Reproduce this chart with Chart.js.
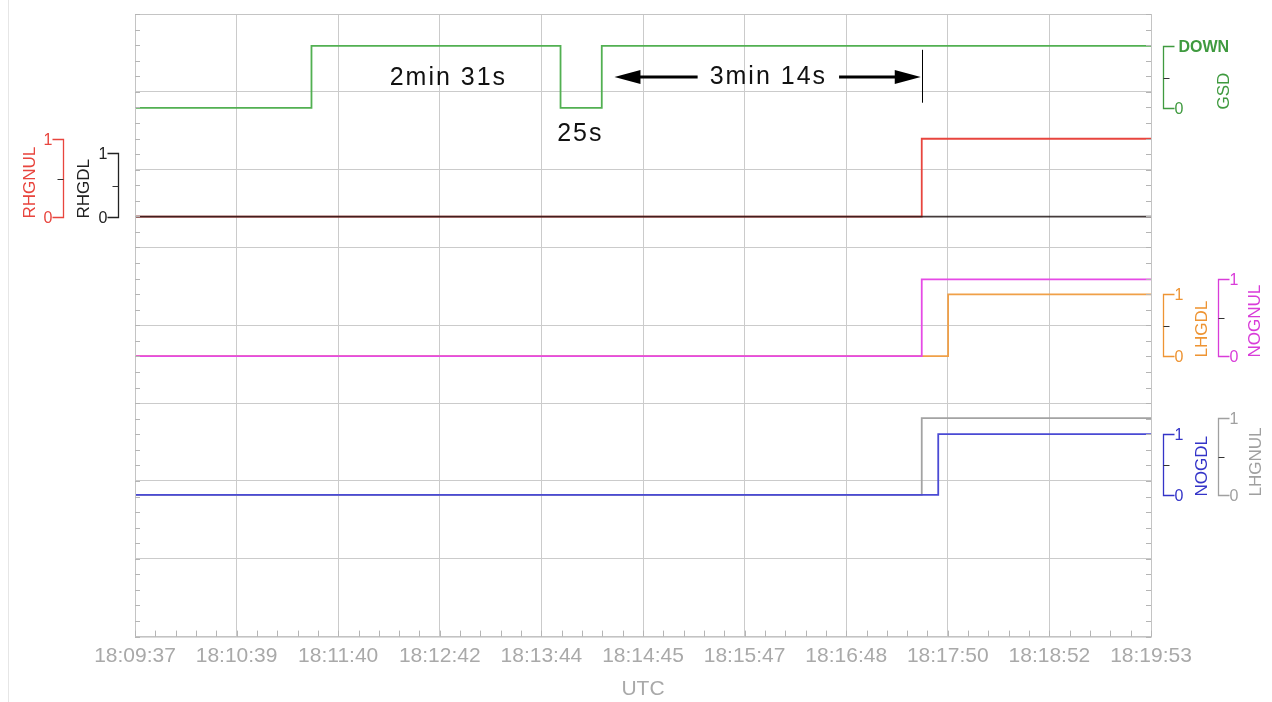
<!DOCTYPE html>
<html>
<head>
  <title>Gear signals</title>
  <style>
    body { margin: 0; background: #fff; }
  </style>
</head>
<body>
  <canvas id="canvas" width="1272" height="702"></canvas>
  <script src="https://cdn.jsdelivr.net/npm/chart.js"></script>
  <script>
    // tick labels along the time axis (one every 61.6 s)
    var timeTicks = ['18:09:37', '18:10:39', '18:11:40', '18:12:42', '18:13:44', '18:14:45',
                     '18:15:47', '18:16:48', '18:17:50', '18:18:52', '18:19:53'];
    var spanSec = 616;   // 18:09:37 -> 18:19:53

    // discrete signals: seconds after 18:09:37 and the value from that point on
    var gsdT    = [0, 107, 258, 283, 616];  var gsdV    = [0, 1, 0, 1, 1];
    var rhgnulT = [0, 477, 616];            var rhgnulV = [0, 1, 1];
    var rhgdlT  = [0, 616];                 var rhgdlV  = [0, 0];
    var nognulT = [0, 477, 616];            var nognulV = [0, 1, 1];
    var lhgdlT  = [0, 493, 616];            var lhgdlV  = [0, 1, 1];
    var lhgnulT = [0, 477, 616];            var lhgnulV = [0, 1, 1];
    var nogdlT  = [0, 487, 616];            var nogdlV  = [0, 1, 1];

    // text annotations (time in s, height on the 0..8 grid)
    var notes = [
      {text: '2min 31s', t: 190, y: 7.18},
      {text: '25s',      t: 270, y: 6.46},
      {text: '3min 14s', t: 384, y: 7.19}
    ];
    var arrowFrom = 290.7, arrowTo = 476.4, arrowY = 7.19, markerT = 477;

    function pts(t, v) {
      return t.map(function(x, i) { return {x: x, y: v[i]}; });
    }

    // where each signal sits in the stacked 0..8 grid: base = level of 0, amp = height of 1
    var lanes = {
      GSD:    {base: 6.795, amp: 0.795, color: '#52b052', axis: '#3f9a3f', side: 'right', bx: 1163, lx: 1224, top: 'DOWN'},
      RHGDL:  {base: 5.397, amp: 0.82,  color: 'rgba(35,25,25,0.85)', axis: '#222', side: 'left', bx: 118, lx: 84},
      RHGNUL: {base: 5.397, amp: 1.0,   color: '#e8453e', axis: '#e8453e', side: 'left', bx: 63, lx: 30},
      NOGNUL: {base: 3.603, amp: 0.987, color: '#e64ae6', axis: '#d93cd9', side: 'right', bx: 1218, lx: 1255},
      LHGDL:  {base: 3.603, amp: 0.795, color: '#f0a048', axis: '#ee9433', side: 'right', bx: 1163, lx: 1202},
      NOGDL:  {base: 1.82,  amp: 0.782, color: '#4a4ad4', axis: '#3434c8', side: 'right', bx: 1163, lx: 1202},
      LHGNUL: {base: 1.82,  amp: 0.987, color: '#a3a3a3', axis: '#a0a0a0', side: 'right', bx: 1218, lx: 1256}
    };

    var seriesData = {
      GSD: pts(gsdT, gsdV), RHGDL: pts(rhgdlT, rhgdlV), RHGNUL: pts(rhgnulT, rhgnulV),
      NOGNUL: pts(nognulT, nognulV), LHGDL: pts(lhgdlT, lhgdlV),
      NOGDL: pts(nogdlT, nogdlV), LHGNUL: pts(lhgnulT, lhgnulV)
    };

    var FONT = '"Liberation Sans", Arial, sans-serif';

    var scales = {
      x: {
        type: 'linear', min: 0, max: spanSec,
        afterBuildTicks: function(scale) {
          scale.ticks = timeTicks.map(function(l, i) { return {value: i * spanSec / 10}; });
        },
        ticks: {
          autoSkip: false, maxRotation: 0, padding: 7, color: '#a9a9a9',
          font: {family: FONT, size: 21},
          callback: function(v, i) { return timeTicks[i]; }
        },
        grid: {color: '#cbcbcb', drawTicks: false},
        border: {color: '#c4c4c4'},
        title: {display: true, text: 'UTC', color: '#a9a9a9', font: {family: FONT, size: 21}, padding: {top: 1, bottom: 0}}
      },
      y: {
        type: 'linear', min: 0, max: 8,
        ticks: {display: false, stepSize: 1},
        grid: {color: '#cbcbcb', drawTicks: false},
        border: {color: '#c4c4c4'}
      }
    };
    Object.keys(lanes).forEach(function(k) {
      var l = lanes[k];
      scales['y' + k] = {type: 'linear', display: false, min: -l.base / l.amp, max: (8 - l.base) / l.amp};
    });

    var datasets = Object.keys(lanes).map(function(k) {
      return {
        label: k, data: seriesData[k], yAxisID: 'y' + k,
        borderColor: lanes[k].color, borderWidth: 1.8,
        stepped: true, pointRadius: 0, fill: false
      };
    });

    var overlay = {
      id: 'overlay',
      afterDraw: function(chart) {
        var ctx = chart.ctx, a = chart.chartArea;
        var xs = chart.scales.x, ys = chart.scales.y;
        ctx.save();

        // page edge line
        ctx.strokeStyle = '#e6e6e6'; ctx.lineWidth = 1;
        ctx.beginPath(); ctx.moveTo(8.5, 0); ctx.lineTo(8.5, 702); ctx.stroke();

        // plot frame and minor ticks
        ctx.strokeStyle = '#c4c4c4';
        ctx.strokeRect(a.left + 0.5, a.top + 0.5, a.right - a.left, a.bottom - a.top);
        ctx.strokeStyle = '#b5b5b5';
        ctx.beginPath();
        for (var v = 0; v <= 8.001; v += 0.2) {
          var py = Math.round(ys.getPixelForValue(v)) + 0.5;
          ctx.moveTo(a.left, py); ctx.lineTo(a.left + 5, py);
          ctx.moveTo(a.right, py); ctx.lineTo(a.right - 5, py);
        }
        for (var s = 0; s <= spanSec + 0.01; s += spanSec / 50) {
          var px = Math.round(xs.getPixelForValue(s)) + 0.5;
          ctx.moveTo(px, a.bottom); ctx.lineTo(px, a.bottom - 6);
        }
        ctx.stroke();

        // per-signal bracket axes
        Object.keys(lanes).forEach(function(k) {
          var l = lanes[k], sc = chart.scales['y' + k];
          var y0 = Math.round(sc.getPixelForValue(0)) + 0.5;
          var y1 = Math.round(sc.getPixelForValue(1)) + 0.5;
          var ym = Math.round((y0 + y1) / 2) + 0.5;
          var dir = l.side === 'right' ? 1 : -1;
          var x = l.bx + 0.5;
          ctx.strokeStyle = l.axis; ctx.lineWidth = 1.3;
          ctx.beginPath();
          ctx.moveTo(x + dir * 11, y1); ctx.lineTo(x, y1); ctx.lineTo(x, y0); ctx.lineTo(x + dir * 11, y0);
          ctx.stroke();
          ctx.strokeStyle = '#333'; ctx.lineWidth = 1;
          ctx.beginPath(); ctx.moveTo(x, ym); ctx.lineTo(x + dir * 6, ym); ctx.stroke();

          ctx.fillStyle = l.axis;
          ctx.textBaseline = 'middle';
          ctx.textAlign = dir > 0 ? 'left' : 'right';
          var tx = x + dir * 11;
          ctx.font = '16px ' + FONT;
          ctx.fillText('0', tx, y0 + 1);
          if (l.top) {
            ctx.font = 'bold 16px ' + FONT;
            ctx.fillText(l.top, tx + 4, y1 + 1);
          } else {
            ctx.fillText('1', tx, y1 + 1);
          }

          ctx.save();
          ctx.translate(l.lx, y0 + 1);
          ctx.rotate(-Math.PI / 2);
          ctx.textAlign = 'left'; ctx.textBaseline = 'middle';
          ctx.font = '17px ' + FONT;
          ctx.fillText(k, 0, 0);
          ctx.restore();
        });

        // annotations
        ctx.fillStyle = '#111';
        ctx.font = '25px ' + FONT;
        ctx.letterSpacing = '2px';
        ctx.textAlign = 'center'; ctx.textBaseline = 'middle';
        notes.forEach(function(n) {
          ctx.fillText(n.text, xs.getPixelForValue(n.t), ys.getPixelForValue(n.y));
        });

        // double arrow with gap for the label, plus end marker
        var ay = ys.getPixelForValue(arrowY);
        var xl = xs.getPixelForValue(arrowFrom), xr = xs.getPixelForValue(arrowTo);
        var tw = ctx.measureText('3min 14s').width;
        ctx.letterSpacing = '0px';
        var tc = xs.getPixelForValue(notes[2].t);
        ctx.strokeStyle = '#000'; ctx.lineWidth = 3;
        ctx.beginPath();
        ctx.moveTo(xl + 20, ay); ctx.lineTo(tc - tw / 2 - 12, ay);
        ctx.moveTo(tc + tw / 2 + 12, ay); ctx.lineTo(xr - 20, ay);
        ctx.stroke();
        ctx.fillStyle = '#000';
        ctx.beginPath();
        ctx.moveTo(xl, ay); ctx.lineTo(xl + 26, ay - 7); ctx.lineTo(xl + 26, ay + 7); ctx.closePath();
        ctx.moveTo(xr, ay); ctx.lineTo(xr - 26, ay - 7); ctx.lineTo(xr - 26, ay + 7); ctx.closePath();
        ctx.fill();
        var mx = Math.round(xs.getPixelForValue(markerT)) + 0.5;
        ctx.lineWidth = 1;
        ctx.beginPath();
        ctx.moveTo(mx, ys.getPixelForValue(7.54)); ctx.lineTo(mx, ys.getPixelForValue(6.86));
        ctx.stroke();

        ctx.restore();
      }
    };

    window.onload = function() {
      var ctx = document.getElementById('canvas').getContext('2d');
      window.myLine = new Chart(ctx, {
        type: 'line',
        data: {datasets: datasets},
        options: {
          responsive: false,
          animation: false,
          devicePixelRatio: 1,
          layout: {padding: {left: 135, right: 121, top: 14, bottom: 0}},
          plugins: {legend: {display: false}, tooltip: {enabled: false}},
          scales: scales
        },
        plugins: [overlay]
      });
    };
  </script>
</body>
</html>
